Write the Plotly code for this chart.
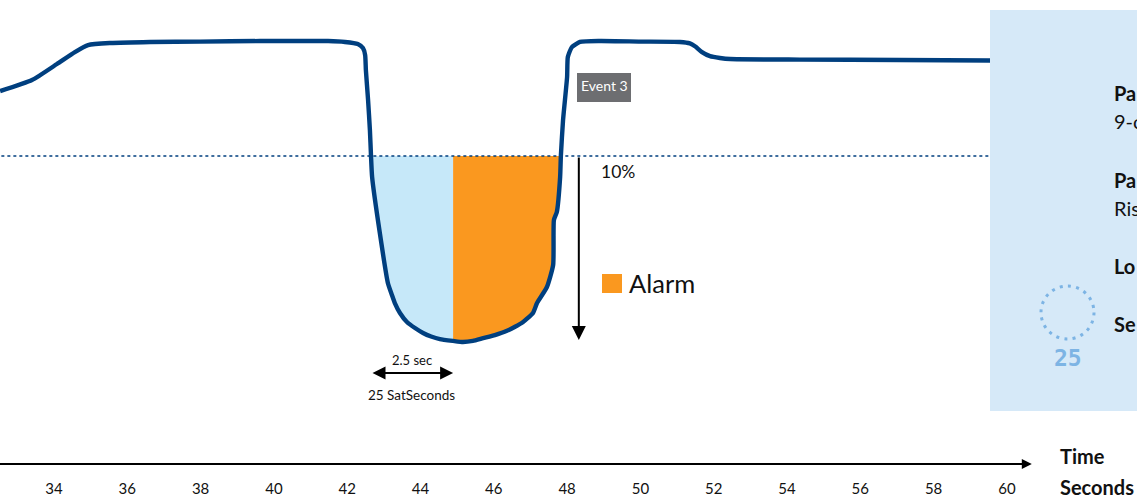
import plotly.graph_objects as go

# Seconds and saturation (%)
time_s = [32.53, 33.40, 34.08, 34.57, 34.93, 35.53, 36.62, 37.98, 39.62, 41.48, 41.94, 42.29,
          42.43, 42.49, 42.51, 42.57, 42.62, 42.65, 42.68, 42.89, 43.11, 43.22, 43.30, 43.44,
          43.63, 43.85, 44.07, 44.29, 44.53, 44.89, 45.16, 45.43, 45.71, 46.03, 46.36, 46.58,
          46.80, 46.93, 47.07, 47.18, 47.45, 47.62, 47.64, 47.72, 47.81, 47.83, 47.89, 48.00,
          48.02, 48.13, 48.35, 48.90, 49.99, 51.08, 51.35, 51.50, 51.68, 51.90, 52.17, 52.45,
          54.35, 57.08, 59.54]
saturation = [93.53, 94.13, 95.00, 95.65, 96.03, 96.14, 96.20, 96.22, 96.25, 96.25, 96.20, 96.09,
              95.87, 95.49, 94.67, 93.04, 91.41, 90.00, 88.86, 85.82, 83.10, 82.45, 82.01, 81.47,
              80.98, 80.65, 80.38, 80.19, 80.05, 79.95, 79.89, 79.95, 80.10, 80.27, 80.50, 80.72,
              80.98, 81.20, 81.47, 82.01, 82.88, 84.08, 86.52, 86.96, 88.86, 90.00, 91.96, 94.29,
              95.38, 95.92, 96.20, 96.25, 96.22, 96.20, 96.12, 95.95, 95.65, 95.43, 95.33, 95.27,
              95.24, 95.22, 95.19]
threshold = 90
drop_floor = 80
event_start = 42.65
alarm_start = 44.89
event_end = 47.83
arrow_x = 48.32
span_y = 78.21
tick_values = list(range(34, 61, 2))
tick_labels = [str(v) for v in tick_values]
axis_start = 32.40
axis_end = 60.68

W, H, AXIS_PX = 1137, 497, 464
FONT = "Lato"
NAVY = "#003f7f"
BLUE_FILL = "#c6e8f9"
ORANGE = "#fa981f"
PANEL = "#d6e9f8"
ICON = "#7db4e4"
INK = "#111111"


def fx(px):
    return px / W


def fy(py):
    return 1 - py / AXIS_PX


def region(start, end):
    pts = [(t, s) for t, s in zip(time_s, saturation) if start <= t <= end]
    return [p[0] for p in pts], [p[1] for p in pts]


fig = go.Figure()

bx, by = region(event_start, alarm_start)
ox, oy = region(alarm_start, event_end)
fig.add_trace(go.Scatter(x=bx + [alarm_start, bx[0]], y=by + [threshold, by[0]], mode="lines",
                         fill="toself", fillcolor=BLUE_FILL, line=dict(width=0), hoverinfo="skip"))
fig.add_trace(go.Scatter(x=ox + [alarm_start, ox[0]], y=oy + [threshold, oy[0]], mode="lines",
                         fill="toself", fillcolor=ORANGE, line=dict(width=0), hoverinfo="skip"))
fig.add_trace(go.Scatter(x=[axis_start, time_s[-1]], y=[threshold, threshold], mode="lines",
                         line=dict(color=NAVY, width=1.4, dash="3px,3px"), hoverinfo="skip"))
fig.add_trace(go.Scatter(x=time_s, y=saturation, mode="lines",
                         line=dict(color=NAVY, width=4.4, shape="spline", smoothing=0.5),
                         hoverinfo="skip"))

shapes = [
    dict(type="rect", xref="paper", yref="paper", x0=fx(990), x1=fx(1137), y0=fy(411), y1=fy(10),
         fillcolor=PANEL, line=dict(width=0), layer="above"),
    dict(type="rect", xref="paper", yref="paper", x0=fx(577), x1=fx(631), y0=fy(102), y1=fy(73),
         fillcolor="#6d6e71", line=dict(width=0), layer="above"),
    dict(type="rect", xref="paper", yref="paper", x0=fx(602), x1=fx(622), y0=fy(293), y1=fy(274),
         fillcolor=ORANGE, line=dict(width=0), layer="above"),
    dict(type="circle", xref="paper", yref="paper", x0=fx(1041), x1=fx(1094), y0=fy(339), y1=fy(286),
         line=dict(color=ICON, width=3, dash="3px,5.3px"), fillcolor="rgba(0,0,0,0)", layer="above"),
]


def label(text, px, py, size, color=INK, anchor="left", bold=False, family=FONT):
    return dict(xref="paper", yref="paper", x=fx(px), y=fy(py), xanchor=anchor, yanchor="middle",
                showarrow=False, text=f"<b>{text}</b>" if bold else text,
                font=dict(family=family, size=size, color=color))


def arrow(x0, y0, x1, y1, side="end", width=2, size=1.3):
    return dict(xref="x", yref="y", axref="x", ayref="y", x=x1, y=y1, ax=x0, ay=y0, text="",
                showarrow=True, arrowhead=2, arrowsize=size,
                arrowwidth=width, arrowcolor="#000000", arrowside=side)


annotations = [
    arrow(axis_start, 73.26, axis_end, 73.26, size=1),
    arrow(arrow_x, threshold, arrow_x, drop_floor, size=1.4),
    arrow(event_start, span_y, alarm_start, span_y, side="end+start", size=1.3),
    label("Event 3", 604, 86, 14, color="#ffffff", anchor="center"),
    label("10%", 599, 171, 17.5),
    label("Alarm", 627, 283, 25.5),
    label("2.5 sec", 412, 360, 13, anchor="center"),
    label("25 SatSeconds", 411, 395, 13.5, anchor="center"),
    label("Time", 1058, 456, 20, bold=True),
    label("Seconds", 1058, 487, 20, bold=True),
    label("25", 1068, 358, 23, color=ICON, anchor="center", bold=True, family="DejaVu Sans Mono"),
    label("Pa", 1112, 93, 20, bold=True),
    label("9-c", 1112, 121, 20),
    label("Pa", 1112, 180, 20, bold=True),
    label("Ris", 1112, 208, 20),
    label("Lo", 1112, 266, 20, bold=True),
    label("Se", 1112, 324, 20, bold=True),
]

fig.update_layout(
    width=W, height=H, margin=dict(l=0, r=0, t=0, b=H - AXIS_PX, autoexpand=False),
    paper_bgcolor="#ffffff", plot_bgcolor="#ffffff", showlegend=False, hovermode=False,
    shapes=shapes, annotations=annotations,
    xaxis=dict(range=[32.527, 63.55], tickvals=tick_values, ticktext=tick_labels, showgrid=False,
               zeroline=False, showline=False, ticks="", ticklabelstandoff=14,
               tickfont=dict(family=FONT, size=15, color=INK)),
    yaxis=dict(range=[73.26, 98.48], visible=False, showgrid=False, zeroline=False),
)

fig.write_html("out.html", config={"displayModeBar": False},
               post_script="document.body.style.margin='0';document.body.style.overflow='hidden';")
